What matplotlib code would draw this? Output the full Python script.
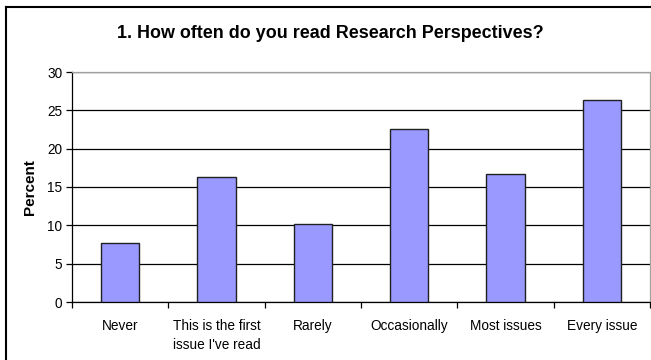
import matplotlib
matplotlib.use("Agg")
import matplotlib.pyplot as plt
from matplotlib.lines import Line2D

plt.rcParams['font.family'] = ['Liberation Sans', 'DejaVu Sans']

categories = ["Never", "This is the first\nissue I've read", "Rarely",
              "Occasionally", "Most issues", "Every issue"]
percent = [7.65, 16.3, 10.2, 22.6, 16.65, 26.3]
yticks = [0, 5, 10, 15, 20, 25, 30]

W, H = 651, 360
fig = plt.figure(figsize=(W / 100, H / 100), dpi=100)

# plot area in pixel coordinates
left, right, top, bottom = 72, 650, 72, 302
ax = fig.add_axes([left / W, 1 - bottom / H, (right - left) / W, (bottom - top) / H])

x = list(range(len(categories)))
ax.bar(x, percent, width=0.4, color="#9999FF", edgecolor="#202020",
       linewidth=1.0, zorder=3)

ax.set_xlim(-0.5, len(categories) - 0.5)
ax.set_ylim(0, 30)
ax.set_yticks(yticks)
ax.set_yticklabels([str(v) for v in yticks], fontsize=9.8)
ax.yaxis.grid(True, color="#000000", linewidth=0.9, zorder=0)
ax.set_axisbelow(True)

# category labels centred under bars, tick marks at category boundaries
ax.set_xticks(x)
ax.set_xticklabels(categories, fontsize=9.8, linespacing=1.45)
ax.tick_params(axis='x', which='major', length=0, pad=12)
ax.set_xticks([i + 0.5 for i in range(-1, len(categories))], minor=True)
ax.tick_params(axis='x', which='minor', length=4, width=0.9, color="#000000",
               direction='out')
ax.tick_params(axis='y', length=4, width=0.9, color="#000000", direction='out',
               pad=3)
for lbl in ax.get_xticklabels():
    lbl.set_verticalalignment('top')

ax.spines['left'].set_color("#000000")
ax.spines['bottom'].set_color("#000000")
ax.spines['top'].set_color("#A0A0A0")
ax.spines['right'].set_color("#A0A0A0")
for s in ax.spines.values():
    s.set_linewidth(0.9)

ax.set_ylabel("Percent", fontsize=11, fontweight='bold', labelpad=7)

fig.text(330 / W, 1 - 33 / H,
         "1. How often do you read Research Perspectives?",
         ha='center', va='center', fontsize=12.9, fontweight='bold')

# outer chart frame
fig.add_artist(Line2D([6 / W, 6 / W], [1 - 7 / H, 0], color="black",
                      linewidth=1.5, transform=fig.transFigure))
fig.add_artist(Line2D([6 / W, 1], [1 - 7 / H, 1 - 7 / H], color="black",
                      linewidth=1.5, transform=fig.transFigure))

fig.savefig("out.png", dpi=100, facecolor="white")
